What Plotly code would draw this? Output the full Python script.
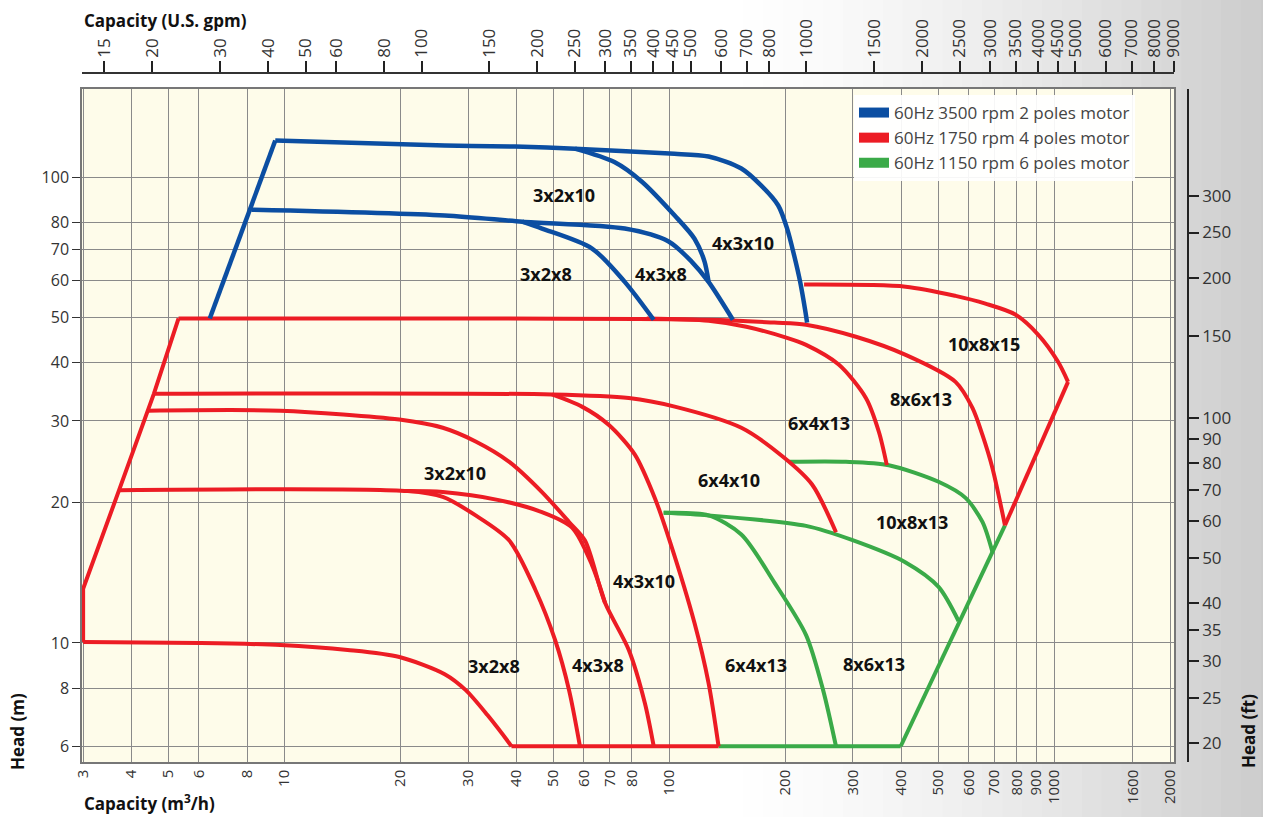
import math
import plotly.graph_objects as go

# ---------------- data (capacity m3/h, head m) ----------------
# 60Hz 3500 rpm 2 poles (blue)
blue_env_x = [6.4, 9.47]
blue_env_y = [49.8, 120.1]
blue_4x3x10_x = [9.47, 26.1, 39.8, 56.9, 100.2, 126.5, 153.9, 173.4, 191.9, 202.4, 211.1, 218.8, 225.4, 228.1]
blue_4x3x10_y = [120.1, 117.2, 116.6, 115.4, 112.6, 111.0, 104.6, 96.1, 87.1, 77.7, 68.0, 59.7, 52.0, 48.8]
blue_3x2x10_x = [56.9, 72.0, 84.9, 103.3, 116.3, 123.5, 126.5]
blue_3x2x10_y = [115.4, 108.0, 98.0, 82.9, 73.9, 66.0, 59.7]
blue_4x3x8_x = [8.21, 26.1, 41.5, 76.6, 99.6, 114.3, 126.5, 146.3]
blue_4x3x8_y = [85.3, 82.9, 80.4, 77.7, 72.9, 66.0, 59.7, 49.5]
blue_3x2x8_x = [41.5, 46.7, 63.0, 76.6, 91.1]
blue_3x2x8_y = [80.4, 77.7, 70.4, 59.7, 49.5]

# 60Hz 1750 rpm 4 poles (red)
red_env_left_x = [3.0, 3.0, 3.72, 4.42, 4.58, 5.31]
red_env_left_y = [10.05, 13.07, 21.3, 31.55, 34.3, 49.8]
red_env_right_x = [1086.6, 745.0]
red_env_right_y = [36.4, 17.9]
red_bottom_x = [38.9, 134.3]
red_bottom_y = [6.0, 6.0]
red_3x2x8_x = [3.0, 6.0, 9.76, 14.6, 19.9, 26.1, 29.6, 33.7, 38.4, 38.9]
red_3x2x8_y = [10.05, 10.0, 9.9, 9.66, 9.33, 8.57, 7.92, 7.0, 6.09, 6.0]
red_3x2x10_x = [3.72, 20.9, 25.8, 31.4, 38.4, 44.9, 50.5, 54.9, 58.6]
red_3x2x10_y = [21.3, 21.2, 20.6, 18.8, 16.6, 13.0, 10.15, 7.92, 6.0]
red_4x3x8_x = [20.9, 25.8, 35.8, 46.7, 55.9, 63.0, 68.1]
red_4x3x8_y = [21.2, 21.1, 20.3, 19.1, 17.7, 14.7, 12.2]
red_4x3x10_x = [4.42, 9.76, 19.9, 25.8, 31.4, 38.4, 46.7, 54.9, 60.4, 68.1, 78.5, 86.4, 91.1]
red_4x3x10_y = [31.55, 31.55, 30.2, 29.0, 27.1, 24.5, 21.1, 18.2, 16.6, 12.2, 9.66, 7.43, 6.0]
red_6x4x13_x = [4.58, 49.6, 78.5, 103.3, 153.9, 198.9, 235.0, 271.1]
red_6x4x13_y = [34.3, 34.2, 33.6, 32.2, 29.0, 25.0, 21.9, 17.3]
red_6x4x10_x = [49.6, 59.3, 69.7, 81.4, 91.7, 100.2, 116.3, 126.5, 134.3]
red_6x4x10_y = [34.2, 32.2, 29.4, 25.4, 20.5, 16.6, 11.04, 8.2, 6.0]
red_10x8x13_x = [5.31, 126.5, 187.4, 226.7, 305.4, 411.3, 554.2, 613.3, 651.1, 690.9, 745.0]
red_10x8x13_y = [49.8, 49.5, 48.8, 48.3, 45.5, 41.6, 36.4, 32.0, 28.0, 23.8, 17.9]
red_8x6x13_x = [87.4, 126.5, 158.6, 201.3, 226.7, 276.0, 324.2, 350.5, 367.5]
red_8x6x13_y = [49.8, 49.25, 47.8, 45.3, 43.7, 39.6, 33.6, 28.4, 24.1]
red_10x8x15_x = [224.0, 411.3, 554.2, 662.8, 792.4, 908.3, 1023.5, 1086.6]
red_10x8x15_y = [58.9, 58.3, 55.7, 53.6, 50.8, 46.0, 40.2, 36.4]

# 60Hz 1150 rpm 6 poles (green)
green_bottom_x = [134.3, 399.3]
green_bottom_y = [6.0, 6.0]
green_env_x = [399.3, 745.0]
green_env_y = [6.0, 17.9]
green_6x4x13_x = [96.7, 126.5, 153.9, 187.4, 226.7, 251.0, 271.1]
green_6x4x13_y = [19.04, 18.8, 17.1, 13.5, 10.4, 7.92, 6.0]
green_8x6x13_x = [96.7, 126.5, 226.7, 298.2, 411.3, 500.7, 564.3]
green_8x6x13_y = [19.04, 18.8, 17.85, 16.65, 14.9, 13.2, 11.15]
green_10x8x13_x = [204.9, 287.7, 371.8, 500.7, 588.4, 651.1, 690.9]
green_10x8x13_y = [24.5, 24.5, 24.1, 22.2, 20.5, 18.2, 15.7]

# curve labels
label_text = ["3x2x10", "4x3x10", "3x2x8", "4x3x8",
              "10x8x15", "8x6x13", "6x4x13", "3x2x10", "6x4x10", "10x8x13",
              "4x3x10", "3x2x8", "4x3x8", "6x4x13", "8x6x13"]
label_x = [53.3, 155.8, 47.9, 95.0,
           658.9, 449.8, 245.0, 27.7, 143.3, 426.4,
           85.9, 35.1, 65.3, 168.3, 340.0]
label_y = [91.9, 72.5, 62.2, 62.2,
           43.95, 33.5, 29.7, 23.2, 22.4, 18.2,
           13.6, 8.92, 8.97, 8.97, 9.01]

# axes ticks
cap_m3h_ticks = [3, 4, 5, 6, 8, 10, 20, 30, 40, 50, 60, 70, 80, 100, 200, 300, 400, 500,
                 600, 700, 800, 900, 1000, 1600, 2000]
cap_gpm_ticks = [15, 20, 30, 40, 50, 60, 80, 100, 150, 200, 250, 300, 350, 400, 450, 500,
                 600, 700, 800, 1000, 1500, 2000, 2500, 3000, 3500, 4000, 4500, 5000,
                 6000, 7000, 8000, 9000]
head_m_ticks = [6, 8, 10, 20, 30, 40, 50, 60, 70, 80, 100, 200]
head_ft_ticks = [20, 25, 30, 35, 40, 50, 60, 70, 80, 90, 100, 150, 200, 250, 300, 600]

legend_names = ["60Hz 3500 rpm 2 poles motor", "60Hz 1750 rpm 4 poles motor",
                "60Hz 1150 rpm 6 poles motor"]

BLUE = "#0b4ea2"
RED = "#ec1c24"
GREEN = "#3aaa48"
CREAM = "#fefcea"
M3H_TO_GPM = 4.4029
M_TO_FT = 3.28084
X_MIN, X_MAX = 2.98, 2048
Y_MIN, Y_MAX = 5.55, 155
X_DOM = 1092 / 1106
Y_DOM = 673 / 689

fig = go.Figure()

# legend entries
for name, col in zip(legend_names, [BLUE, RED, GREEN]):
    fig.add_trace(go.Scatter(x=[None], y=[None], mode="lines", name=name,
                             line=dict(color=col, width=12)))

def curve(xs, ys, col, width=4, spline=True):
    fig.add_trace(go.Scatter(
        x=xs, y=ys, mode="lines", showlegend=False, hoverinfo="skip",
        line=dict(color=col, width=width,
                  shape="spline" if spline else "linear", smoothing=0.8)))

# green
curve(green_bottom_x, green_bottom_y, GREEN, spline=False)
curve(green_env_x, green_env_y, GREEN, spline=False)
curve(green_6x4x13_x, green_6x4x13_y, GREEN)
curve(green_8x6x13_x, green_8x6x13_y, GREEN)
curve(green_10x8x13_x, green_10x8x13_y, GREEN)
# red
curve(red_env_left_x, red_env_left_y, RED, spline=False)
curve(red_env_right_x, red_env_right_y, RED, spline=False)
curve(red_bottom_x, red_bottom_y, RED, spline=False)
curve(red_3x2x8_x, red_3x2x8_y, RED)
curve(red_3x2x10_x, red_3x2x10_y, RED)
curve(red_4x3x8_x, red_4x3x8_y, RED)
curve(red_4x3x10_x, red_4x3x10_y, RED)
curve(red_6x4x13_x, red_6x4x13_y, RED)
curve(red_6x4x10_x, red_6x4x10_y, RED)
curve(red_10x8x13_x, red_10x8x13_y, RED)
curve(red_8x6x13_x, red_8x6x13_y, RED)
curve(red_10x8x15_x, red_10x8x15_y, RED)
# blue
curve(blue_env_x, blue_env_y, BLUE, 4.5, spline=False)
curve(blue_4x3x10_x, blue_4x3x10_y, BLUE, 4.5)
curve(blue_3x2x10_x, blue_3x2x10_y, BLUE, 4.5)
curve(blue_4x3x8_x, blue_4x3x8_y, BLUE, 4.5)
curve(blue_3x2x8_x, blue_3x2x8_y, BLUE, 4.5)

# invisible anchors so the secondary (gpm / ft) axes are rendered
fig.add_trace(go.Scatter(x=[100], y=[10], xaxis="x2", yaxis="y", mode="markers",
                         marker=dict(opacity=0), showlegend=False, hoverinfo="skip"))
fig.add_trace(go.Scatter(x=[10], y=[50], xaxis="x", yaxis="y2", mode="markers",
                         marker=dict(opacity=0), showlegend=False, hoverinfo="skip"))

annotations = []
for t, lx, ly in zip(label_text, label_x, label_y):
    annotations.append(dict(x=math.log10(lx), y=math.log10(ly), xref="x", yref="y",
                            text="<b>%s</b>" % t, showarrow=False,
                            font=dict(family="Open Sans", size=18, color="#111")))

title_font = dict(family="Open Sans", size=17, color="#111")
annotations += [
    dict(x=0, y=1.0755, xref="paper", yref="paper", xanchor="left", yanchor="middle",
         text="<b>Capacity (U.S. gpm)</b>", showarrow=False, font=title_font),
    dict(x=0, y=-0.0595, xref="paper", yref="paper", xanchor="left", yanchor="middle",
         text="<b>Capacity (m<sup>3</sup>/h)</b>", showarrow=False, font=title_font),
    dict(x=-0.0579, y=0.045, xref="paper", yref="paper", xanchor="center", yanchor="middle",
         text="<b>Head (m)</b>", textangle=-90, showarrow=False, font=title_font),
    dict(x=1.0552, y=0.045, xref="paper", yref="paper", xanchor="center", yanchor="middle",
         text="<b>Head (ft)</b>", textangle=-90, showarrow=False, font=title_font),
]

# soft grey background gradient toward the right edge (decoration)
shapes = []
n = 30
for i in range(n):
    x0 = 0.58 + i * (0.54 / n)
    g = int(255 - (255 - 198) * (i / (n - 1)) ** 1.4)
    shapes.append(dict(type="rect", xref="paper", yref="paper", x0=x0, x1=x0 + 0.54 / n + 0.002,
                       y0=-0.2, y1=1.2, fillcolor="rgb(%d,%d,%d)" % (g, g, g),
                       line=dict(width=0), layer="below"))
# cream plot area on top of the gradient
shapes.append(dict(type="rect", xref="paper", yref="paper", x0=0, x1=X_DOM, y0=0, y1=Y_DOM,
                   fillcolor=CREAM, line=dict(width=0), layer="below"))

tickfont = dict(family="Open Sans", size=15, color="#333")
fig.update_layout(
    width=1263, height=817,
    margin=dict(l=82, r=75, t=73, b=55),
    paper_bgcolor="white",
    plot_bgcolor=CREAM,
    font=dict(family="Open Sans", color="#333"),
    showlegend=True,
    legend=dict(x=(854 - 82) / 1106, y=(762 - 95) / 689, xanchor="left", yanchor="top",
                bgcolor="rgba(255,255,255,0.92)", borderwidth=0,
                font=dict(family="Open Sans", size=17, color="#444"),
                itemwidth=30, tracegroupgap=0),
    xaxis=dict(type="log", range=[math.log10(X_MIN), math.log10(X_MAX)],
               domain=[0, X_DOM],
               tickvals=cap_m3h_ticks, ticktext=[str(v) for v in cap_m3h_ticks],
               tickangle=-90, tickfont=tickfont, ticks="",
               showgrid=True, gridcolor="#8a8a8a", gridwidth=1.4,
               showline=True, linecolor="#777", linewidth=1.5, mirror=True,
               zeroline=False),
    yaxis=dict(type="log", range=[math.log10(Y_MIN), math.log10(Y_MAX)],
               domain=[0, Y_DOM],
               tickvals=head_m_ticks, ticktext=[str(v) for v in head_m_ticks],
               tickfont=dict(family="Open Sans", size=16, color="#333"),
               ticks="outside", ticklen=8, tickcolor="#333",
               showgrid=True, gridcolor="#8a8a8a", gridwidth=1.4,
               showline=True, linecolor="#777", linewidth=1.5, mirror=True,
               zeroline=False),
    xaxis2=dict(type="log", overlaying="x", side="top", anchor="free", position=1,
                range=[math.log10(X_MIN * M3H_TO_GPM), math.log10(X_MAX * M3H_TO_GPM)],
                tickvals=cap_gpm_ticks, ticktext=[str(v) for v in cap_gpm_ticks],
                tickangle=-90, tickfont=dict(family="Open Sans", size=17, color="#333"),
                ticks="outside", ticklen=11, tickcolor="#222", tickwidth=1.5,
                showline=True, linecolor="#333", linewidth=1.5, showgrid=False,
                zeroline=False),
    yaxis2=dict(type="log", overlaying="y", side="right", anchor="free", position=1,
                range=[math.log10(Y_MIN * M_TO_FT), math.log10(Y_MAX * M_TO_FT)],
                tickvals=head_ft_ticks, ticktext=[str(v) for v in head_ft_ticks],
                tickfont=dict(family="Open Sans", size=17, color="#333"),
                ticks="outside", ticklen=10, tickcolor="#222", tickwidth=1.5,
                showline=True, linecolor="#222", linewidth=1.5, showgrid=False,
                zeroline=False),
    annotations=annotations,
    shapes=shapes,
)

fig.write_html("out.html")
